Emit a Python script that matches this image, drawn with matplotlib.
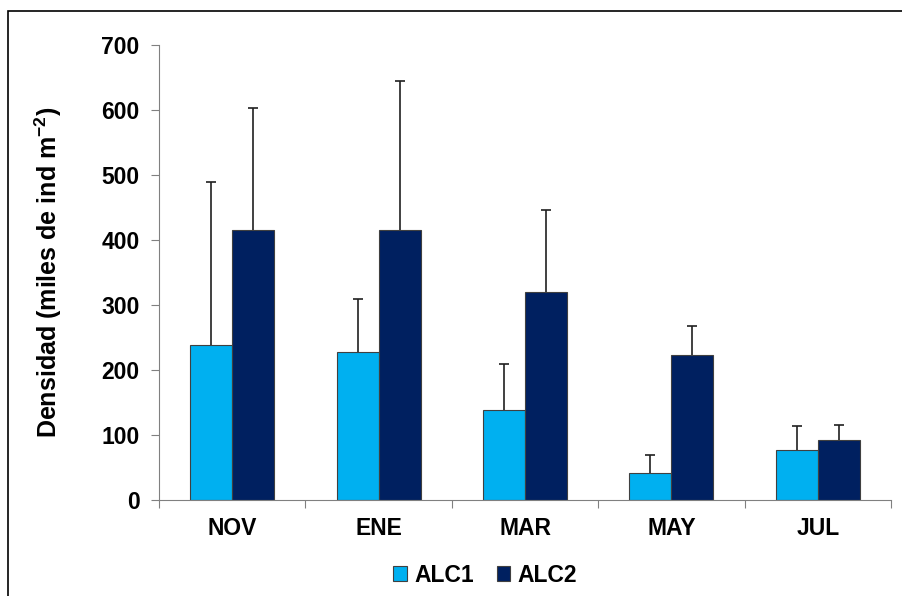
import numpy as np
import matplotlib.pyplot as plt
from matplotlib.patches import Rectangle

months = ['NOV', 'ENE', 'MAR', 'MAY', 'JUL']
alc1 = [238, 228, 138, 42, 77]
alc1_err = [251, 81, 71, 27, 37]
alc2 = [415, 415, 320, 223, 92]
alc2_err = [188, 230, 126, 45, 23]

plt.rcParams['font.family'] = ['Liberation Sans', 'DejaVu Sans']
plt.rcParams['font.weight'] = 'bold'
plt.rcParams['mathtext.fontset'] = 'custom'
plt.rcParams['mathtext.bf'] = 'Liberation Sans:bold'
plt.rcParams['mathtext.rm'] = 'Liberation Sans:bold'

fig = plt.figure(figsize=(9.02, 5.96), dpi=100)
ax = fig.add_axes([0.1763, 0.1611, 0.8115, 0.7634])

x = np.arange(len(months))
w = 0.287
ekw = dict(ecolor='#202020', elinewidth=1.2, capsize=3.5, capthick=1.2)
b1 = ax.bar(x - w / 2, alc1, w, color='#00B0F0', edgecolor='#404040', linewidth=0.8,
            yerr=[np.zeros(5), alc1_err], error_kw=ekw, label='ALC1')
b2 = ax.bar(x + w / 2, alc2, w, color='#002060', edgecolor='#404040', linewidth=0.8,
            yerr=[np.zeros(5), alc2_err], error_kw=ekw, label='ALC2')
# only the upper caps
for b in (b1, b2):
    caps = b.errorbar.lines[1]
    caps[0].set_visible(False)

ax.set_xlim(-0.5, 4.5)
ax.set_ylim(0, 700)
ax.set_yticks(range(0, 701, 100))
ax.set_xticks(np.arange(-0.5, 5, 1))
ax.set_xticklabels([])
ax.set_xticks(x, minor=True)
ax.set_xticklabels(months, minor=True, fontsize=16.5, fontweight='bold')
ax.tick_params(axis='x', which='minor', length=0, pad=12)
ax.tick_params(axis='x', which='major', length=6, color='#808080', direction='out')
ax.tick_params(axis='y', length=6, color='#808080', labelsize=16.5, pad=8)
for lab in ax.get_yticklabels():
    lab.set_fontweight('bold')

for s in ['top', 'right']:
    ax.spines[s].set_visible(False)
ax.spines['left'].set_color('#808080')
ax.spines['bottom'].set_color('#808080')

ax.set_ylabel('Densidad (miles de ind m$^{\\mathrm{-2}}$)', fontsize=18,
              fontweight='bold')
ax.yaxis.set_label_coords(-0.13, 0.5)

ax.legend(loc='center', bbox_to_anchor=(0.5 + (485 - 525) / 732, -0.165), ncol=2,
          frameon=False, fontsize=16.5, handlelength=0.6, handleheight=0.6,
          handletextpad=0.3, columnspacing=1.0)

fig.patches.append(Rectangle((8 / 902, -0.1), 1.2, 1 - 11 / 596 + 0.1,
                             transform=fig.transFigure, fill=False,
                             edgecolor='#000000', linewidth=1.2))

fig.savefig('out.png', dpi=100)
